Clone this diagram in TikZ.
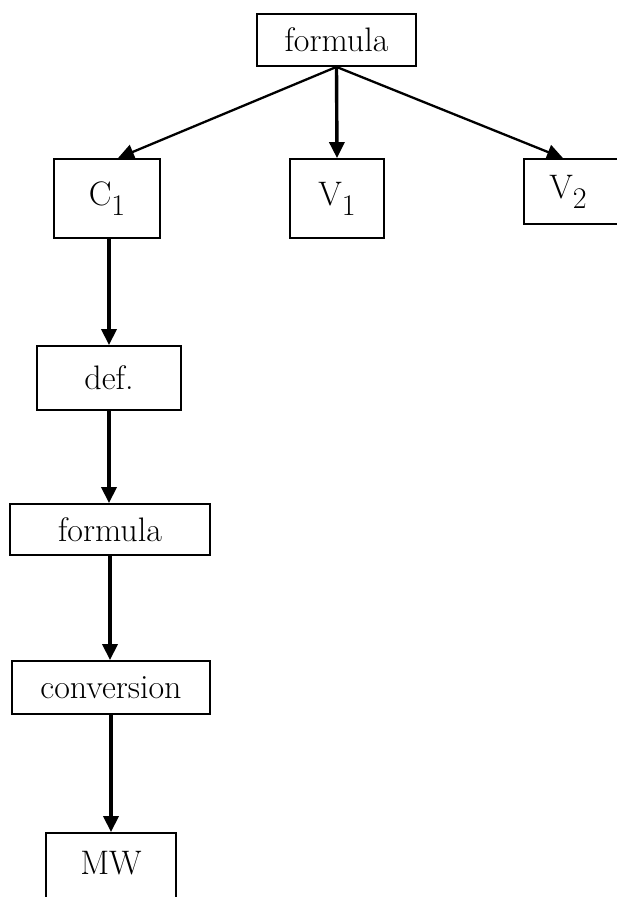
\documentclass[tikz,border=0pt]{standalone}
\usetikzlibrary{arrows.meta,calc}
\begin{document}
\begin{tikzpicture}[x=1pt,y=-1pt,
  box/.style={draw=black,line width=1.8pt,inner sep=0pt,font=\fontsize{34}{36}\selectfont},
  arr/.style={line width=3.4pt,-{Triangle[width=15pt,length=16pt]}},
  darr/.style={line width=2.3pt,-{Triangle[width=15pt,length=16pt]}}]
\useasboundingbox (0,0) rectangle (616,897);
\newcommand{\subl}[2]{#1\raisebox{-10pt}{\fontsize{30}{32}\selectfont #2}}
\node[box,minimum width=159pt,minimum height=52pt] (f1) at (336.5,40) {formula};
\node[box,minimum width=106pt,minimum height=79pt] (c1) at (107,198.5) {\subl{C}{1}};
\node[box,minimum width=94pt,minimum height=79pt] (v1) at (337,198.5) {\subl{V}{1}};
\node[box,minimum width=96pt,minimum height=65pt] (v2) at (572,191.5) {\hspace*{-8pt}\subl{V}{2}};
\node[box,minimum width=144pt,minimum height=64pt] (def) at (109,378) {def.};
\node[box,minimum width=200pt,minimum height=51pt] (f2) at (110,529.5) {formula};
\node[box,minimum width=198pt,minimum height=53pt] (conv) at (111,687.5) {conversion};
\node[box,minimum width=130pt,minimum height=70pt,text depth=10pt] (mw) at (111,868) {MW};
\draw[darr] (f1.south) -- ($(c1.north)+(11,0)$);
\draw[arr] (f1.south) -- (v1.north);
\draw[darr] (f1.south) -- ($(v2.north)+(-9,0)$);
\draw[arr] (c1.south -| def.north) -- (def.north);
\draw[arr] (def.south) -- (def.south |- f2.north);
\draw[arr] (f2.south) -- (f2.south |- conv.north);
\draw[arr] (conv.south) -- (conv.south |- mw.north);
\end{tikzpicture}
\end{document}
